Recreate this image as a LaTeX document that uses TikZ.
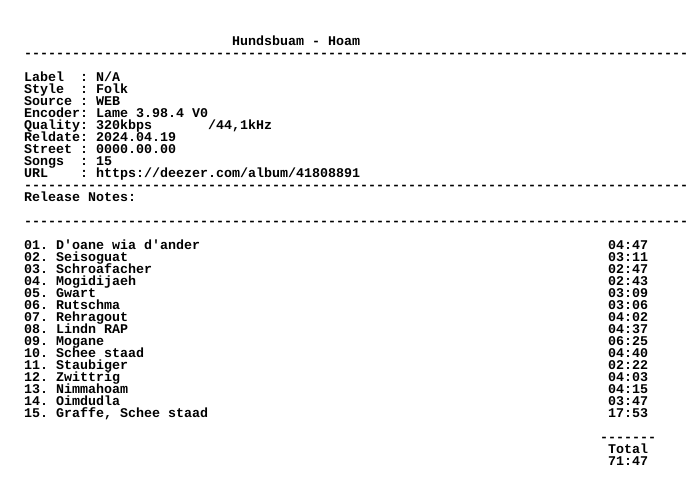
\documentclass[tikz,border=0pt]{standalone}
\usepackage{fontspec}
\setmonofont{Liberation Mono}
\usepackage{tikz}
\usepackage{xcolor}

\newcommand{\ruleline}{-----------------------------------------------------------------------------------}

\begin{document}
\begin{tikzpicture}[x=1pt,y=-1pt,
  nfo/.style={anchor=base west, inner sep=0pt, font=\ttfamily\bfseries\fontsize{13.33pt}{12pt}\selectfont}]
\fill [white] (0,0) rectangle (696,480);
\useasboundingbox (0,0) rectangle (696,480);
% header
\node [nfo] (title) at (232,45) {Hundsbuam - Hoam};
\node [nfo] (rule1) at (24,57) {\ruleline};
% release info
\node [nfo] (label) at (24,81) {Label};
\node [nfo] (labelv) at (80,81) {: N/A};
\node [nfo] (style) at (24,93) {Style};
\node [nfo] (stylev) at (80,93) {: Folk};
\node [nfo] (source) at (24,105) {Source};
\node [nfo] (sourcev) at (80,105) {: WEB};
\node [nfo] (encoder) at (24,117) {Encoder};
\node [nfo] (encoderv) at (80,117) {: Lame 3.98.4 V0};
\node [nfo] (quality) at (24,129) {Quality};
\node [nfo] (qualityv) at (80,129) {: 320kbps~~~~~~~/44,1kHz};
\node [nfo] (reldate) at (24,141) {Reldate};
\node [nfo] (reldatev) at (80,141) {: 2024.04.19};
\node [nfo] (street) at (24,153) {Street};
\node [nfo] (streetv) at (80,153) {: 0000.00.00};
\node [nfo] (songs) at (24,165) {Songs};
\node [nfo] (songsv) at (80,165) {: 15};
\node [nfo] (url) at (24,177) {URL};
\node [nfo] (urlv) at (80,177) {: https://deezer.com/album/41808891};
\node [nfo] (rule2) at (24,189) {\ruleline};
\node [nfo] (notes) at (24,201) {Release Notes:};
\node [nfo] (rule3) at (24,225) {\ruleline};
% tracklist
\node [nfo] (track1) at (24,249) {01. D'oane wia d'ander};
\node [nfo] (time1) at (608,249) {04:47};
\node [nfo] (track2) at (24,261) {02. Seisoguat};
\node [nfo] (time2) at (608,261) {03:11};
\node [nfo] (track3) at (24,273) {03. Schroafacher};
\node [nfo] (time3) at (608,273) {02:47};
\node [nfo] (track4) at (24,285) {04. Mogidijaeh};
\node [nfo] (time4) at (608,285) {02:43};
\node [nfo] (track5) at (24,297) {05. Gwart};
\node [nfo] (time5) at (608,297) {03:09};
\node [nfo] (track6) at (24,309) {06. Rutschma};
\node [nfo] (time6) at (608,309) {03:06};
\node [nfo] (track7) at (24,321) {07. Rehragout};
\node [nfo] (time7) at (608,321) {04:02};
\node [nfo] (track8) at (24,333) {08. Lindn RAP};
\node [nfo] (time8) at (608,333) {04:37};
\node [nfo] (track9) at (24,345) {09. Mogane};
\node [nfo] (time9) at (608,345) {06:25};
\node [nfo] (track10) at (24,357) {10. Schee staad};
\node [nfo] (time10) at (608,357) {04:40};
\node [nfo] (track11) at (24,369) {11. Staubiger};
\node [nfo] (time11) at (608,369) {02:22};
\node [nfo] (track12) at (24,381) {12. Zwittrig};
\node [nfo] (time12) at (608,381) {04:03};
\node [nfo] (track13) at (24,393) {13. Nimmahoam};
\node [nfo] (time13) at (608,393) {04:15};
\node [nfo] (track14) at (24,405) {14. Oimdudla};
\node [nfo] (time14) at (608,405) {03:47};
\node [nfo] (track15) at (24,417) {15. Graffe, Schee staad};
\node [nfo] (time15) at (608,417) {17:53};
% total
\node [nfo] (sumrule) at (600,441) {-------};
\node [nfo] (total) at (608,453) {Total};
\node [nfo] (totaltime) at (608,465) {71:47};

\end{tikzpicture}
\end{document}
